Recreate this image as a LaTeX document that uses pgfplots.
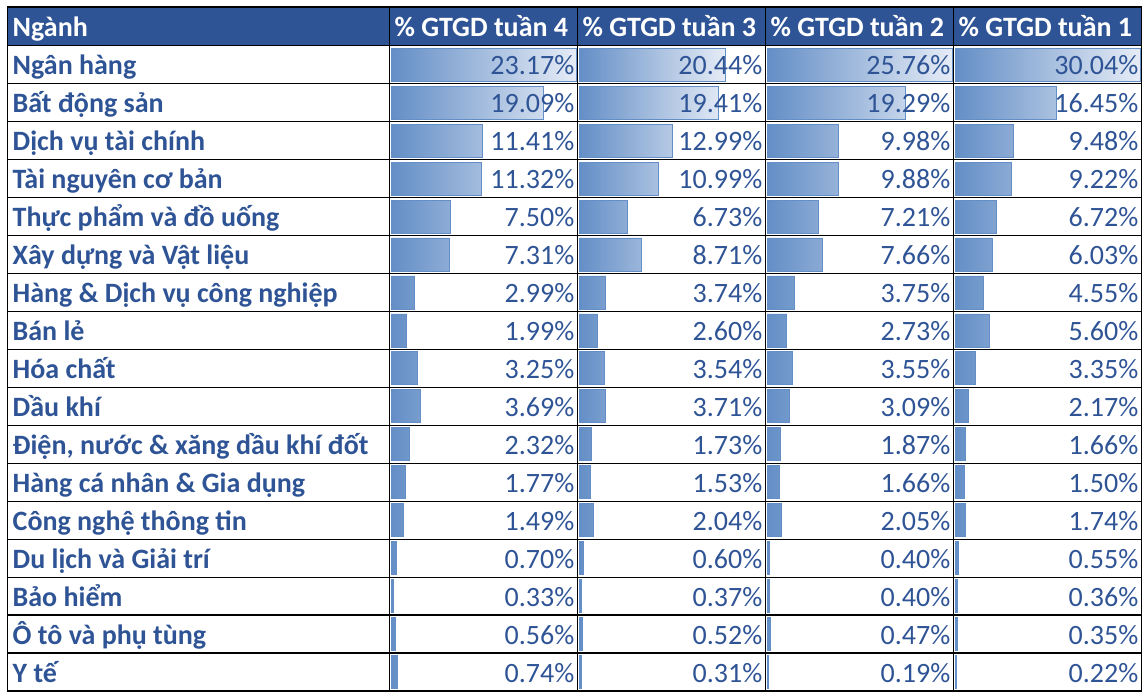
\documentclass[border=0pt]{standalone}
\usepackage{pgfplots}
\pgfplotsset{compat=1.18}
\usepackage{pgfplotstable}
\usepackage{fontspec}
\setmainfont{Carlito}
\definecolor{hdr}{HTML}{2F5496}
\definecolor{txt}{HTML}{2F5496}
\definecolor{barblue}{HTML}{638EC6}
\definecolor{barend}{HTML}{E6ECF6}

\pgfplotstableread{
row w4 w3 w2 w1
1 23.17 20.44 25.76 30.04
2 19.09 19.41 19.29 16.45
3 11.41 12.99 9.98 9.48
4 11.32 10.99 9.88 9.22
5 7.50 6.73 7.21 6.72
6 7.31 8.71 7.66 6.03
7 2.99 3.74 3.75 4.55
8 1.99 2.60 2.73 5.60
9 3.25 3.54 3.55 3.35
10 3.69 3.71 3.09 2.17
11 2.32 1.73 1.87 1.66
12 1.77 1.53 1.66 1.50
13 1.49 2.04 2.05 1.74
14 0.70 0.60 0.40 0.55
15 0.33 0.37 0.40 0.36
16 0.56 0.52 0.47 0.35
17 0.74 0.31 0.19 0.22
}\data

\pgfplotsset{
  datacol/.style={scale only axis, width=185pt, height=645.3pt, hide axis,
    xmin=0, ymin=0.5, ymax=17.5, y dir=reverse, clip=false, anchor=north west},
  databar/.style={xbar, bar width=33pt, draw=barblue, line width=0.8pt,
    left color=barblue, right color=barend},
  vallabel/.style={draw=none, mark=none, point meta=explicit,
    nodes near coords={\pgfmathprintnumber[fixed,fixed zerofill,precision=2,assume math mode=true]{\pgfplotspointmeta}\%},
    every node near coord/.style={anchor=base east, font=\fontsize{28}{28}\selectfont,
      text=txt, inner sep=0pt, yshift=-10pt, xshift=-1.5pt}}
}

\begin{document}
\begin{tikzpicture}[x=1pt,y=1pt]
\useasboundingbox (0,0) rectangle (1147,-697);
\fill[hdr] (7.3,-7) rectangle (1141.7,-45.7);

\begin{axis}[datacol, at={(391pt,-45.7pt)}, xmax=23.17]
\addplot[databar] table[x=w4,y=row]{\data};
\addplot[vallabel] table[x expr=23.17, y=row, meta=w4]{\data};
\end{axis}
\begin{axis}[datacol, at={(579pt,-45.7pt)}, xmax=25.76]
\addplot[databar] table[x=w3,y=row]{\data};
\addplot[vallabel] table[x expr=25.76, y=row, meta=w3]{\data};
\end{axis}
\begin{axis}[datacol, at={(767pt,-45.7pt)}, xmax=25.76]
\addplot[databar] table[x=w2,y=row]{\data};
\addplot[vallabel] table[x expr=25.76, y=row, meta=w2]{\data};
\end{axis}
\begin{axis}[datacol, at={(955pt,-45.7pt)}, xmax=30.04]
\addplot[databar] table[x=w1,y=row]{\data};
\addplot[vallabel] table[x expr=30.04, y=row, meta=w1]{\data};
\end{axis}

% header text
\begin{scope}[every node/.style={anchor=base west, inner sep=0pt, text=white,
    font=\fontsize{28}{28}\selectfont\bfseries}]
\node at (12.5,-36.3) {Ngành};
\node at (394.5,-36.3) {\% GTGD tuần 4};
\node at (582.5,-36.3) {\% GTGD tuần 3};
\node at (770.5,-36.3) {\% GTGD tuần 2};
\node at (958.5,-36.3) {\% GTGD tuần 1};
\end{scope}

% row labels
\foreach \n [count=\i] in {Ngân hàng, Bất động sản, Dịch vụ tài chính, Tài nguyên cơ bản,
  Thực phẩm và đồ uống, Xây dựng và Vật liệu, Hàng \& Dịch vụ công nghiệp, Bán lẻ,
  Hóa chất, Dầu khí, {Điện, nước \& xăng dầu khí đốt}, Hàng cá nhân \& Gia dụng,
  Công nghệ thông tin, Du lịch và Giải trí, Bảo hiểm, Ô tô và phụ tùng, Y tế}
  \node[anchor=base west, inner sep=0pt, text=txt, font=\fontsize{28}{28}\selectfont\bfseries]
    at (12.5, {-(45.7+\i*37.96-9)}) {\n};

% grid lines
\foreach \k in {0,...,17}
  \draw[line width=1.3pt, black] (7.3,{-(45.7+\k*37.96)}) -- (1141.7,{-(45.7+\k*37.96)});
\draw[line width=1.3pt, black] (7.3,-7) -- (1141.7,-7);
\foreach \xx in {7.3,389.3,577.3,765.3,953.3,1141.7}
  \draw[line width=1.3pt, black] (\xx,-7) -- (\xx,-691);
\end{tikzpicture}
\end{document}
